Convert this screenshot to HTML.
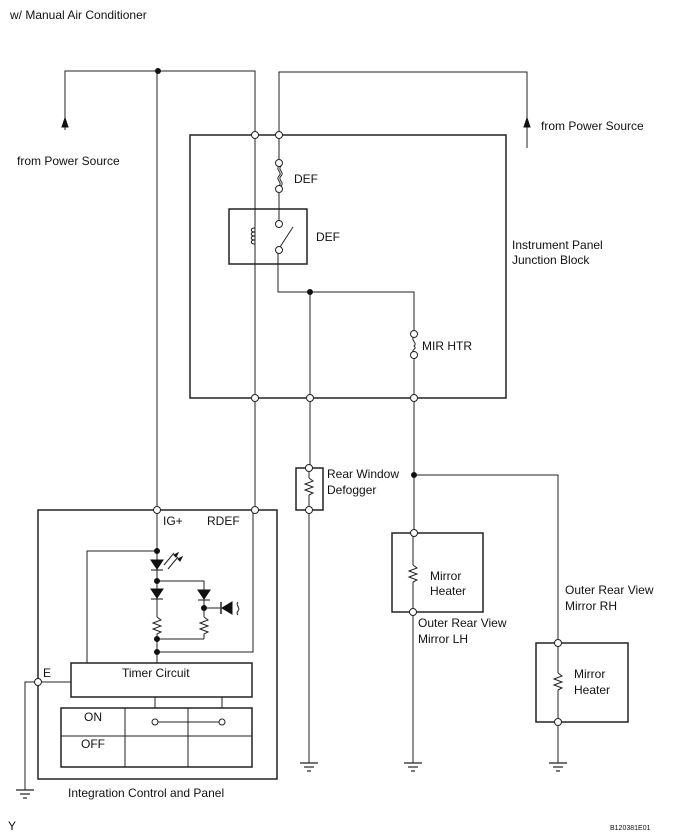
<!DOCTYPE html>
<html><head><style>body{margin:0;background:#fff}svg{display:block}text{font-family:"Liberation Sans",sans-serif;font-size:12px;fill:#111}</style></head>
<body>
<svg width="688" height="840" viewBox="0 0 688 840" xmlns="http://www.w3.org/2000/svg">
<g stroke="#222" stroke-width="1" fill="none">
<!-- top wires -->
<polyline points="65,130 65,71 255,71 255,135"/>
<polyline points="279,135 279,72 527,72 527,148"/>
<line x1="157" y1="71" x2="157" y2="510"/>
<!-- JB box -->
<rect x="190" y="135" width="316" height="263" stroke-width="1.5"/>
<line x1="255" y1="135" x2="255" y2="510"/>
<line x1="279" y1="135" x2="279" y2="164"/>
<path d="M279,166 c-4,4 4,6 0,10 c-4,4 4,6 0,10"/>
<path d="M281,166 c-4,4 4,6 0,10 c-4,4 4,6 0,10"/>
<line x1="279" y1="189" x2="279" y2="223"/>
<rect x="229" y="209" width="78" height="55" stroke-width="1.5"/>
<path d="M255,228 c-5,0 -5,4 0,4 c-5,0 -5,4 0,4 c-5,0 -5,4 0,4 c-5,0 -5,4 0,4"/>
<line x1="280" y1="247" x2="293" y2="227"/>
<polyline points="278,250 278,292 414,292 414,333"/>
<line x1="310" y1="292" x2="310" y2="467"/>
<path d="M414,337 c-4,3 4,6 0,9 c4,3 -4,4 0,6"/>
<line x1="414" y1="355" x2="414" y2="533"/>
<!-- defogger -->
<rect x="296" y="468" width="27" height="42" stroke-width="1.5"/>
<path d="M309,478 l4,3 -8,3 8,3 -8,3 8,3 -4,2"/>
<line x1="309" y1="468" x2="309" y2="478"/>
<line x1="309" y1="495" x2="309" y2="763"/>
<!-- mirror LH -->
<polyline points="414,475 558,475 558,643"/>
<rect x="392" y="533" width="91" height="79" stroke-width="1.5"/>
<line x1="413" y1="533" x2="413" y2="565"/>
<path d="M413,565 l4,3 -8,3 8,3 -8,3 8,3 -4,2"/>
<line x1="413" y1="582" x2="413" y2="763"/>
<!-- mirror RH -->
<rect x="536" y="643" width="92" height="79" stroke-width="1.5"/>
<line x1="558" y1="643" x2="558" y2="673"/>
<path d="M558,673 l4,3 -8,3 8,3 -8,3 8,3 -4,2"/>
<line x1="558" y1="690" x2="558" y2="763"/>
<!-- grounds -->
<g stroke-width="1.2">
<line x1="300" y1="763" x2="318" y2="763"/><line x1="304" y1="767" x2="314" y2="767"/><line x1="307" y1="771" x2="311" y2="771"/>
<line x1="404" y1="763" x2="422" y2="763"/><line x1="408" y1="767" x2="418" y2="767"/><line x1="411" y1="771" x2="415" y2="771"/>
<line x1="549" y1="763" x2="567" y2="763"/><line x1="553" y1="767" x2="563" y2="767"/><line x1="556" y1="771" x2="560" y2="771"/>
<line x1="16" y1="790" x2="34" y2="790"/><line x1="20" y1="794" x2="30" y2="794"/><line x1="23" y1="798" x2="27" y2="798"/>
</g>
<!-- ICP -->
<rect x="38" y="510" width="239" height="269" stroke-width="1.5"/>
<polyline points="157,551 87,551 87,663"/>
<polyline points="157,652 253,652 253,510"/>
<line x1="157" y1="510" x2="157" y2="617"/>
<polyline points="157,581 204,581 204,617"/>
<path d="M157,617 l4,3 -8,3 8,3 -8,3 8,3 -4,2 v5"/>
<path d="M204,617 l4,3 -8,3 8,3 -8,3 8,3 -4,2 v5"/>
<polyline points="157,634 157,663"/>
<line x1="157" y1="639" x2="204" y2="639"/>
<line x1="204" y1="608" x2="220" y2="608"/>
<line x1="221" y1="602" x2="221" y2="614" stroke-width="1.5"/>
<path d="M238,602 c-3,3 3,6 0,9 c-2,2 0,4 0,4"/>
<line x1="164" y1="565" x2="174" y2="553"/><line x1="168" y1="569" x2="178" y2="557"/>
<rect x="71" y="663" width="181" height="34" stroke-width="1.5"/>
<line x1="155" y1="697" x2="155" y2="708"/><line x1="222" y1="697" x2="222" y2="708"/>
<rect x="61" y="708" width="191" height="59" stroke-width="1.5"/>
<line x1="61" y1="736" x2="252" y2="736"/>
<line x1="125" y1="708" x2="125" y2="767"/><line x1="188" y1="708" x2="188" y2="767"/>
<line x1="155" y1="722" x2="222" y2="722"/>
<polyline points="71,682 25,682 25,790"/>
</g>
<!-- filled shapes -->
<g fill="#111" stroke="#111">
<polygon points="65,118 62,127 68,127"/>
<polygon points="527,118 524,127 530,127"/>
<circle cx="158" cy="71" r="2.5"/><circle cx="310" cy="292" r="2.5"/><circle cx="414" cy="475" r="2.5"/>
<circle cx="157" cy="551" r="2.5"/><circle cx="157" cy="581" r="2.5"/><circle cx="204" cy="608" r="2.5"/>
<circle cx="157" cy="639" r="2.5"/><circle cx="157" cy="652" r="2.5"/>
<polygon points="151,560 163,560 157,569"/><line x1="151" y1="570" x2="163" y2="570"/>
<polygon points="151,589 163,589 157,598"/><line x1="151" y1="599" x2="163" y2="599"/>
<polygon points="198,590 210,590 204,599"/><line x1="198" y1="600" x2="210" y2="600"/>
<polygon points="222,608 232,602 232,614"/>
<polygon points="178,553 174,555 176,557"/><polygon points="182,557 178,559 180,561"/>
</g>
<g fill="#fff" stroke="#222">
<circle cx="255" cy="135" r="3.5"/><circle cx="279" cy="135" r="3.5"/>
<circle cx="279" cy="163" r="3.5"/><circle cx="279" cy="189" r="3.5"/>
<circle cx="279" cy="224" r="3.5"/><circle cx="279" cy="250" r="3.5"/>
<circle cx="414" cy="334" r="3.5"/><circle cx="414" cy="355" r="3.5"/>
<circle cx="255" cy="398" r="3.5"/><circle cx="310" cy="398" r="3.5"/><circle cx="414" cy="398" r="3.5"/>
<circle cx="309" cy="468" r="3.5"/><circle cx="309" cy="510" r="3.5"/>
<circle cx="414" cy="533" r="3.5"/><circle cx="413" cy="612" r="3.5"/>
<circle cx="558" cy="643" r="3.5"/><circle cx="558" cy="722" r="3.5"/>
<circle cx="157" cy="510" r="3.5"/><circle cx="255" cy="510" r="3.5"/>
<circle cx="38" cy="682" r="3.5"/>
<circle cx="155" cy="722" r="3"/><circle cx="222" cy="722" r="3"/>
</g>
<text x="10" y="19">w/ Manual Air Conditioner</text>
<text x="17" y="165">from Power Source</text>
<text x="541" y="130">from Power Source</text>
<text x="294" y="183">DEF</text>
<text x="316" y="241">DEF</text>
<text x="512" y="249">Instrument Panel</text>
<text x="512" y="264">Junction Block</text>
<text x="422" y="350">MIR HTR</text>
<text x="327" y="478">Rear Window</text>
<text x="327" y="494">Defogger</text>
<text x="430" y="580">Mirror</text>
<text x="430" y="595">Heater</text>
<text x="418" y="627">Outer Rear View</text>
<text x="418" y="643">Mirror LH</text>
<text x="565" y="594">Outer Rear View</text>
<text x="565" y="610">Mirror  RH</text>
<text x="574" y="678">Mirror</text>
<text x="574" y="694">Heater</text>
<text x="163" y="525">IG+</text>
<text x="207" y="525">RDEF</text>
<text x="43" y="677">E</text>
<text x="122" y="677">Timer Circuit</text>
<text x="84" y="721">ON</text>
<text x="81" y="748">OFF</text>
<text x="68" y="797">Integration Control and Panel</text>
<text x="8" y="830">Y</text>
<text x="610" y="830" style="font-size:7px">B120381E01</text>
</svg>
</body></html>
